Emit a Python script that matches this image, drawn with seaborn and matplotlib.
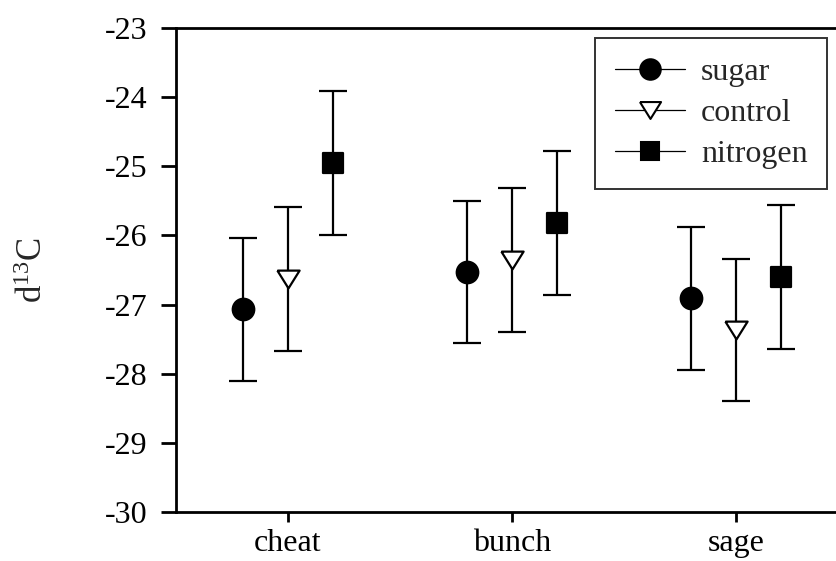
import matplotlib
matplotlib.use("Agg")
import matplotlib.pyplot as plt
from matplotlib.lines import Line2D
import seaborn as sns
import pandas as pd
import numpy as np

# Mean d13C per plant type and treatment, with error-bar half-widths
plants = ["cheat", "bunch", "sage"]
treatments = ["sugar", "control", "nitrogen"]
sugar_mean = [-27.07, -26.53, -26.91]
control_mean = [-26.63, -26.35, -27.37]
nitrogen_mean = [-24.95, -25.82, -26.60]
sugar_err = [1.03, 1.03, 1.03]
control_err = [1.04, 1.04, 1.03]
nitrogen_err = [1.04, 1.04, 1.04]
y_ticks = [-30, -29, -28, -27, -26, -25, -24, -23]

means = [sugar_mean, control_mean, nitrogen_mean]
errs = [sugar_err, control_err, nitrogen_err]
offsets = [-0.2, 0.0, 0.2]

# downward triangle that is a little wider than tall
tri_down = [(-1.0, 0.8), (1.0, 0.8), (0.0, -0.8), (-1.0, 0.8)]
markers = {"sugar": "o", "control": tri_down, "nitrogen": "s"}
facecolors = {"sugar": "black", "control": "white", "nitrogen": "black"}
sizes = {"sugar": 15.5, "control": 16.0, "nitrogen": 14.3}

rows = []
for t, m, e, off in zip(treatments, means, errs, offsets):
    for i, p in enumerate(plants):
        rows.append({"plant": p, "treatment": t, "pos": i + off, "mean": m[i], "err": e[i]})
df = pd.DataFrame(rows)

sns.set_theme(style="ticks")
plt.rcParams["font.family"] = ["Liberation Serif", "DejaVu Serif"]
plt.rcParams["mathtext.fontset"] = "custom"
plt.rcParams["mathtext.rm"] = "Liberation Serif"
plt.rcParams["mathtext.it"] = "Liberation Serif"

FS = 23

fig = plt.figure(figsize=(8.36, 5.61), dpi=100)
ax = fig.add_axes([176 / 836, 1 - 512 / 561, (848 - 176) / 836, (512 - 28) / 561])

# error bars
for t in treatments:
    sub = df[df.treatment == t]
    ax.errorbar(sub["pos"], sub["mean"], yerr=sub["err"], fmt="none",
                ecolor="black", elinewidth=1.6, capsize=10, capthick=1.6, zorder=2)

# markers
for t in treatments:
    sub = df[df.treatment == t]
    sns.scatterplot(data=sub, x="pos", y="mean", ax=ax, marker=markers[t],
                    s=sizes[t] ** 2, color=facecolors[t], edgecolor="black",
                    linewidth=1.6, zorder=3, legend=False)

ax.set_xlim(-0.5, 2.5)
ax.set_ylim(-30, -23)
ax.set_xticks(range(len(plants)))
ax.set_xticklabels(plants)
ax.set_yticks(y_ticks)
ax.set_yticklabels([str(v) for v in y_ticks])
ax.set_xlabel("")
ax.set_ylabel("")
fig.text(33 / 836, 1 - 270 / 561, r"d$^{\mathrm{13}}$C", rotation=90,
         ha="center", va="center", fontsize=25)

for side in ["left", "bottom", "top", "right"]:
    ax.spines[side].set_linewidth(2.0)
    ax.spines[side].set_color("black")
ax.tick_params(axis="y", length=10.5, width=2.0, pad=10, labelsize=FS, colors="black")
ax.tick_params(axis="x", length=7.5, width=2.0, pad=5, labelsize=FS, colors="black")

handles = [Line2D([0], [0], color="black", lw=0.9, marker=markers[t],
                  markersize=sizes[t] * 0.95, markerfacecolor=facecolors[t],
                  markeredgecolor="black", markeredgewidth=1.5) for t in treatments]
leg = ax.legend(handles, treatments, loc="upper left",
                bbox_to_anchor=(595 / 836, 1 - 38 / 561), bbox_transform=fig.transFigure,
                frameon=True, fancybox=False, edgecolor="black", fontsize=FS,
                handlelength=2.2, borderpad=0.62, labelspacing=0.36, handletextpad=0.5,
                borderaxespad=0)
leg.get_frame().set_linewidth(1.4)

fig.savefig("out.png", dpi=100)
